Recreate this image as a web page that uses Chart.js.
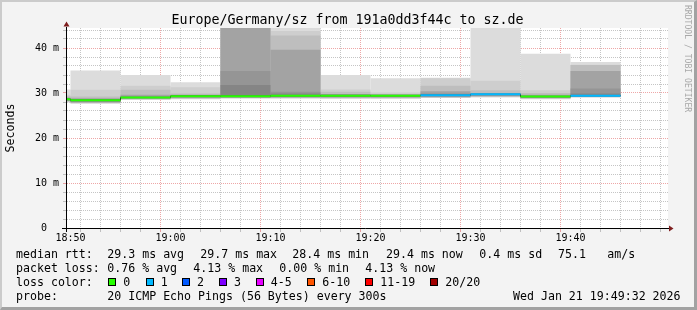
<!DOCTYPE html>
<html>
<head>
<meta charset="utf-8">
<script src="https://cdn.jsdelivr.net/npm/chart.js@4.4.1/dist/chart.umd.min.js"></script>
<style>
html, body { margin: 0; padding: 0; background: #f3f3f3; }
#wrap { position: relative; width: 697px; height: 310px; background: #f3f3f3; overflow: hidden;
  font-family: "DejaVu Sans Mono", monospace; color: #000; }
#frame { position: absolute; left: 0; top: 0; width: 697px; height: 310px; box-sizing: border-box;
  border-style: solid; border-width: 2px 3px 3px 2px; border-color: #cbcbcb #a2a2a2 #a2a2a2 #cbcbcb;
  pointer-events: none; z-index: 3; }
canvas { position: absolute; left: 0; top: 0; }
#title { position: absolute; left: -1px; width: 697px; top: 11.5px; text-align: center;
  font-size: 13.3px; line-height: 16px; white-space: pre; }
#credit { position: absolute; left: 683px; top: 5px; writing-mode: vertical-rl;
  font-size: 8.1px; line-height: 10px; color: #a8a8a8; white-space: pre; }
.t { position: absolute; white-space: pre; font-size: 11.6px; line-height: 14px; }
.box { position: absolute; width: 8px; height: 8px; box-sizing: border-box; border: 1px solid #000; }
</style>
</head>
<body>
<div id="wrap">
  <canvas id="chart" width="697" height="310"></canvas>
  <div id="title">Europe/Germany/sz from 191a0dd3f44c to sz.de</div>
  <div id="credit">RRDTOOL / TOBI OETIKER</div>
  <div id="legend"></div>
  <div id="frame"></div>
</div>
<script>
// 5 minute steps, start time of each step
const segStart = ['18:45', '18:50', '18:55', '19:00', '19:05', '19:10', '19:15', '19:20', '19:25', '19:30', '19:35', '19:40'];
const median = [28.6, 28.4, 29.0, 29.3, 29.3, 29.4, 29.4, 29.4, 29.5, 29.7, 29.2, 29.4];
const lossCount = [0, 0, 0, 0, 0, 0, 0, 0, 1, 1, 0, 1];

// smoke, outer ping pairs first (ms)
const smoke1Hi = [30.8, 35.0, 34.0, 32.4, 60, 50, 34.0, 33.3, 33.4, 50, 38.7, 36.9];
const smoke1Lo = [27.9, 27.6, 28.5, 28.6, 28.8, 28.8, 28.7, 28.7, 28.9, 29.0, 28.6, 29.0];
const smoke2Hi = [29.6, 30.7, 31.6, 31.3, 55, 43.8, 30.8, 30.1, 33.3, 32.7, 30.6, 36.3];
const smoke2Lo = [28.0, 27.7, 28.55, 28.7, 28.85, 28.85, 28.8, 28.8, 28.95, 29.1, 28.7, 29.05];
const smoke3Hi = [29.3, 29.2, 30.7, 29.9, 50, 42.8, 30.3, 29.8, 31.6, 30.6, 30.0, 36.25];
const smoke3Lo = [28.1, 27.8, 28.6, 28.8, 28.9, 28.9, 28.9, 28.9, 29.0, 29.2, 28.8, 29.1];
const smoke4Hi = [29.0, 28.8, 29.6, 29.6, 46, 39.6, 29.8, 29.7, 30.4, 30.0, 29.6, 34.9];
const smoke4Lo = [28.2, 27.9, 28.7, 28.9, 28.95, 29.0, 29.0, 29.0, 29.1, 29.3, 28.9, 29.15];
const smoke5Hi = [28.9, 28.7, 29.3, 29.5, 34.9, 30.3, 29.7, 29.6, 29.9, 29.9, 29.5, 31.0];
const smoke5Lo = [28.3, 28.0, 28.8, 29.0, 29.0, 29.1, 29.1, 29.1, 29.2, 29.4, 29.0, 29.2];
const smoke6Hi = [28.8, 28.6, 29.2, 29.4, 31.8, 29.9, 29.6, 29.5, 29.8, 29.85, 29.4, 29.9];
const smoke6Lo = [28.4, 28.1, 28.85, 29.1, 29.1, 29.2, 29.2, 29.2, 29.3, 29.5, 29.05, 29.3];

const xTickLabels = ['18:50', '19:00', '19:10', '19:20', '19:30', '19:40'];
const yTickLabels = ['0  ', '10 m', '20 m', '30 m', '40 m'];

const lossLabels = ['0', '1', '2', '3', '4-5', '6-10', '11-19', '20/20'];
const lossColors = ['#26ff00', '#00b8ff', '#0059ff', '#7e00ff', '#e600ff', '#ff5500', '#ff0000', '#a10000'];
const smokeColors = ['#dcdcdc', '#cecece', '#bebebe', '#a3a3a3', '#959595', '#858585'];

const legendRows = [
  [[16, 'median rtt:'], [107.3, '29.3 ms avg'], [200.3, '29.7 ms max'], [292.3, '28.4 ms min'],
   [386, '29.4 ms now'], [479.3, '0.4 ms sd'], [558, '75.1'], [607.3, 'am/s']],
  [[16, 'packet loss:'], [107.3, '0.76 % avg'], [193.3, '4.13 % max'], [279.3, '0.00 % min'], [365.3, '4.13 % now']],
  [[16, 'loss color:']],
  [[16, 'probe:'], [107.3, '20 ICMP Echo Pings (56 Bytes) every 300s'], [513, 'Wed Jan 21 19:49:32 2026']]
];
const lossBoxX = [108.3, 145.7, 182, 219, 255.7, 307.3, 365.3, 430.3];

const xMin = -0.35, xMax = 59.75, stepMin = 5;
const plotWidth = 697 - 67 - 29;

function toMin(t) {
  const p = t.split(':');
  return (+p[0]) * 60 + (+p[1]) - (18 * 60 + 50);
}
function lossBucket(n) {
  if (n <= 3) return n;
  if (n <= 5) return 4;
  if (n <= 10) return 5;
  if (n <= 19) return 6;
  return 7;
}

// legend (html text)
const legend = document.getElementById('legend');
legendRows.forEach((row, r) => {
  row.forEach(([x, s]) => {
    const el = document.createElement('div');
    el.className = 't';
    el.style.left = x + 'px';
    el.style.top = (247 + r * 14) + 'px';
    el.textContent = s;
    legend.appendChild(el);
  });
});
lossLabels.forEach((lab, i) => {
  const b = document.createElement('div');
  b.className = 'box';
  b.style.left = Math.round(lossBoxX[i]) + 'px';
  b.style.top = '278px';
  b.style.background = lossColors[i];
  legend.appendChild(b);
  const el = document.createElement('div');
  el.className = 't';
  el.style.left = (lossBoxX[i] + 15) + 'px';
  el.style.top = '275px';
  el.textContent = lab;
  legend.appendChild(el);
});

const xMid = segStart.map(t => toMin(t) + stepMin / 2);
const levels = [[smoke1Lo, smoke1Hi], [smoke2Lo, smoke2Hi], [smoke3Lo, smoke3Hi],
                [smoke4Lo, smoke4Hi], [smoke5Lo, smoke5Hi], [smoke6Lo, smoke6Hi]];

const datasets = levels.map((lv, i) => ({
  data: xMid.map((x, k) => ({ x: x, y: [lv[0][k], lv[1][k]] })),
  backgroundColor: smokeColors[i],
  order: 10 - i
}));
// thin dark median line (only its steps show)
const medianPts = segStart.map((t, k) => ({ x: toMin(t), y: median[k] }));
medianPts.push({ x: toMin(segStart[segStart.length - 1]) + stepMin, y: median[median.length - 1] });
datasets.push({
  type: 'line',
  data: medianPts,
  borderColor: '#202020',
  borderWidth: 1,
  pointRadius: 0,
  stepped: true,
  order: 1
});
// median coloured by packet loss
datasets.push({
  data: xMid.map((x, k) => ({ x: x, y: [median[k] - 0.22, median[k] + 0.22] })),
  backgroundColor: lossCount.map(n => lossColors[lossBucket(n)]),
  order: 0
});

const minorGrid = 'rgba(140,140,140,0.5)';
const majorGrid = 'rgba(222,80,80,0.5)';
const tickFont = { family: 'DejaVu Sans Mono', size: 10 };

const plotBack = {
  id: 'plotBack',
  beforeDraw(chart) {
    const { ctx, chartArea: a } = chart;
    ctx.save();
    ctx.fillStyle = '#ffffff';
    ctx.fillRect(a.left, a.top, a.right - a.left, a.bottom - a.top);
    ctx.restore();
  }
};

const axes = {
  id: 'axes',
  afterDraw(chart) {
    const { ctx, chartArea: a } = chart;
    const x0 = a.left - 0.5, y0 = a.bottom + 0.5;
    ctx.save();
    ctx.strokeStyle = '#000';
    ctx.lineWidth = 1;
    ctx.beginPath();
    ctx.moveTo(a.left - 5, y0);
    ctx.lineTo(a.right + 1, y0);
    ctx.moveTo(x0, a.bottom + 4);
    ctx.lineTo(x0, a.top - 1);
    ctx.stroke();
    ctx.fillStyle = '#7f1f1f';
    ctx.beginPath();
    ctx.moveTo(a.right + 1, y0 - 3);
    ctx.lineTo(a.right + 5.5, y0);
    ctx.lineTo(a.right + 1, y0 + 3);
    ctx.closePath();
    ctx.fill();
    ctx.beginPath();
    ctx.moveTo(x0 - 3, a.top - 1.5);
    ctx.lineTo(x0, a.top - 6.5);
    ctx.lineTo(x0 + 3, a.top - 1.5);
    ctx.closePath();
    ctx.fill();
    ctx.restore();
  }
};

new Chart(document.getElementById('chart'), {
  type: 'bar',
  data: { datasets: datasets },
  options: {
    responsive: false,
    animation: false,
    events: [],
    layout: { padding: { top: 28, right: 29, left: 0, bottom: 0 } },
    datasets: {
      bar: {
        grouped: false, barThickness: stepMin * plotWidth / (xMax - xMin),
        borderWidth: 0, clip: 0, inflateAmount: 0
      },
      line: { clip: 0 }
    },
    plugins: { legend: { display: false }, tooltip: { enabled: false }, title: { display: false } },
    scales: {
      x: {
        type: 'linear', min: xMin, max: xMax, offset: false, z: 1,
        afterFit(s) { s.height = 82; },
        ticks: {
          stepSize: 2, autoSkip: false, includeBounds: false, maxRotation: 0, padding: 0,
          color: '#000', font: tickFont,
          callback: v => (Math.round(v) % 10 === 0 ? xTickLabels[Math.round(v) / 10] : '')
        },
        grid: {
          color: c => (c.tick && Math.round(c.tick.value) % 10 === 0 ? majorGrid : minorGrid),
          tickLength: 4
        },
        border: { display: false, dash: [1, 1] }
      },
      y: {
        min: 0, max: 400 / 9, z: 1,
        afterFit(s) { s.width = 67; },
        ticks: {
          stepSize: 2, autoSkip: false, includeBounds: false, padding: 4,
          color: '#000', font: tickFont,
          callback: v => (Math.round(v) % 10 === 0 ? yTickLabels[Math.round(v) / 10] : '')
        },
        grid: {
          color: c => (c.tick && Math.round(c.tick.value) % 10 === 0 ? majorGrid : minorGrid),
          tickLength: 4
        },
        border: { display: false, dash: [1, 1] },
        title: {
          display: true, text: 'Seconds', color: '#000',
          font: { family: 'DejaVu Sans Mono', size: 11.6 },
          padding: { top: 4.5, bottom: 0 }
        }
      }
    }
  },
  plugins: [plotBack, axes]
});
</script>
</body>
</html>
